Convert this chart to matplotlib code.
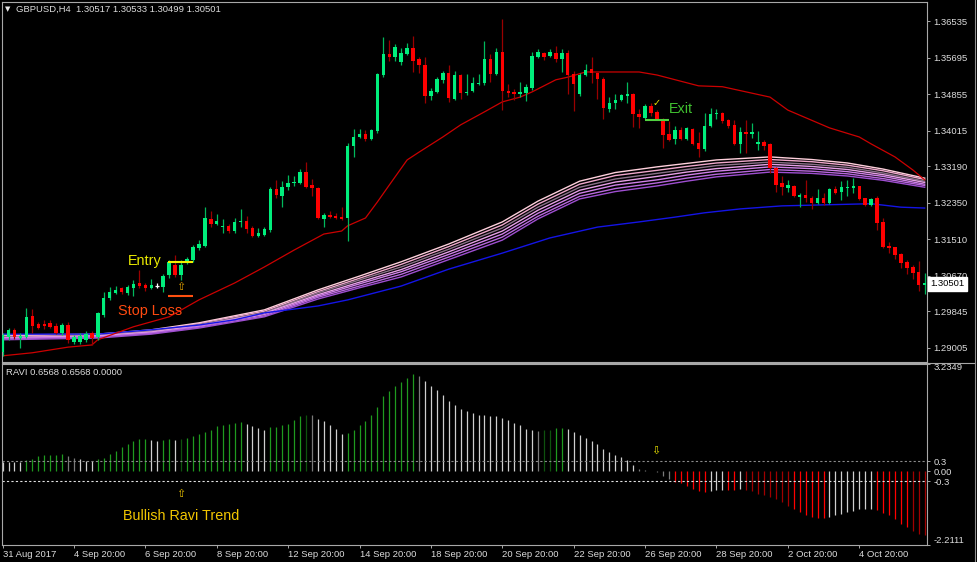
import matplotlib
matplotlib.use("Agg")
import matplotlib.pyplot as plt
from matplotlib.lines import Line2D
import numpy as np

plt.rcParams['font.family'] = ['Liberation Sans', 'DejaVu Sans']

# ---------------- data (GBPUSD H4) ----------------
bar_open = [
    1.2891, 1.2925, 1.2942, 1.2923, 1.2925, 1.2974, 1.2956, 1.2956, 1.2958, 1.2951,
    1.2935, 1.2953, 1.2914, 1.2914, 1.2919, 1.2935, 1.2925, 1.2976, 1.3015, 1.3027,
    1.3039, 1.3027, 1.3039, 1.3050, 1.3045, 1.3039, 1.3043, 1.3041, 1.3069, 1.3092,
    1.3069, 1.3096, 1.3103, 1.3131, 1.3135, 1.3198, 1.3186, 1.3179, 1.3182, 1.3170,
    1.3191, 1.3193, 1.3177, 1.3159, 1.3161, 1.3172, 1.3267, 1.3251, 1.3272, 1.3281,
    1.3281, 1.3306, 1.3276, 1.3269, 1.3198, 1.3207, 1.3205, 1.3202, 1.3200, 1.3366,
    1.3387, 1.3394, 1.3382, 1.3401, 1.3530, 1.3578, 1.3572, 1.3560, 1.3578, 1.3592,
    1.3567, 1.3553, 1.3482, 1.3491, 1.3519, 1.3535, 1.3475, 1.3530, 1.3489, 1.3493,
    1.3509, 1.3512, 1.3567, 1.3532, 1.3583, 1.3493, 1.3491, 1.3486, 1.3489, 1.3500,
    1.3572, 1.3581, 1.3574, 1.3581, 1.3567, 1.3581, 1.3532, 1.3486, 1.3530, 1.3544,
    1.3535, 1.3521, 1.3452, 1.3465, 1.3472, 1.3482, 1.3486, 1.3440, 1.3431, 1.3459,
    1.3445, 1.3429, 1.3394, 1.3382, 1.3403, 1.3382, 1.3405, 1.3373, 1.3359, 1.3412,
    1.3440, 1.3442, 1.3426, 1.3415, 1.3371, 1.3399, 1.3394, 1.3371, 1.3375, 1.3371,
    1.3315, 1.3281, 1.3269, 1.3274, 1.3249, 1.3253, 1.3246, 1.3235, 1.3246, 1.3235,
    1.3267, 1.3260, 1.3269, 1.3269, 1.3274, 1.3246, 1.3230, 1.3246, 1.3191, 1.3135,
    1.3133, 1.3117, 1.3099, 1.3087, 1.3075, 1.3046]
bar_high = [
    1.2935, 1.2946, 1.2946, 1.2935, 1.2992, 1.2990, 1.2960, 1.2965, 1.2965, 1.2958,
    1.2958, 1.2960, 1.2930, 1.2935, 1.2939, 1.2939, 1.2983, 1.3029, 1.3041, 1.3043,
    1.3041, 1.3045, 1.3057, 1.3080, 1.3050, 1.3059, 1.3050, 1.3071, 1.3103, 1.3115,
    1.3103, 1.3110, 1.3138, 1.3149, 1.3225, 1.3216, 1.3209, 1.3198, 1.3186, 1.3200,
    1.3221, 1.3205, 1.3182, 1.3177, 1.3179, 1.3272, 1.3288, 1.3285, 1.3299, 1.3297,
    1.3313, 1.3329, 1.3290, 1.3272, 1.3212, 1.3216, 1.3212, 1.3225, 1.3373, 1.3405,
    1.3405, 1.3403, 1.3405, 1.3535, 1.3618, 1.3611, 1.3602, 1.3592, 1.3604, 1.3620,
    1.3572, 1.3572, 1.3500, 1.3525, 1.3539, 1.3553, 1.3539, 1.3532, 1.3532, 1.3525,
    1.3532, 1.3609, 1.3578, 1.3592, 1.3659, 1.3509, 1.3498, 1.3514, 1.3509, 1.3583,
    1.3590, 1.3583, 1.3590, 1.3597, 1.3590, 1.3588, 1.3539, 1.3535, 1.3555, 1.3572,
    1.3537, 1.3525, 1.3479, 1.3486, 1.3486, 1.3514, 1.3489, 1.3452, 1.3463, 1.3465,
    1.3449, 1.3431, 1.3424, 1.3412, 1.3410, 1.3410, 1.3408, 1.3398, 1.3442, 1.3454,
    1.3452, 1.3445, 1.3429, 1.3426, 1.3410, 1.3426, 1.3419, 1.3401, 1.3380, 1.3373,
    1.3318, 1.3297, 1.3288, 1.3276, 1.3258, 1.3288, 1.3251, 1.3267, 1.3258, 1.3269,
    1.3274, 1.3285, 1.3288, 1.3292, 1.3274, 1.3246, 1.3246, 1.3251, 1.3200, 1.3145,
    1.3133, 1.3119, 1.3103, 1.3092, 1.3101, 1.3073]
bar_low = [
    1.2882, 1.2919, 1.2921, 1.2900, 1.2923, 1.2935, 1.2944, 1.2944, 1.2946, 1.2932,
    1.2930, 1.2912, 1.2909, 1.2909, 1.2914, 1.2907, 1.2919, 1.2972, 1.3011, 1.3025,
    1.3025, 1.3022, 1.3020, 1.3039, 1.3032, 1.3036, 1.3039, 1.3029, 1.3062, 1.3064,
    1.3057, 1.3094, 1.3099, 1.3126, 1.3133, 1.3179, 1.3184, 1.3165, 1.3165, 1.3165,
    1.3179, 1.3165, 1.3156, 1.3156, 1.3159, 1.3168, 1.3246, 1.3225, 1.3265, 1.3274,
    1.3279, 1.3269, 1.3251, 1.3198, 1.3179, 1.3200, 1.3198, 1.3195, 1.3147, 1.3341,
    1.3385, 1.3378, 1.3380, 1.3396, 1.3525, 1.3562, 1.3562, 1.3553, 1.3576, 1.3537,
    1.3535, 1.3465, 1.3472, 1.3489, 1.3512, 1.3468, 1.3472, 1.3475, 1.3484, 1.3491,
    1.3507, 1.3507, 1.3514, 1.3530, 1.3449, 1.3479, 1.3472, 1.3479, 1.3470, 1.3495,
    1.3569, 1.3565, 1.3572, 1.3560, 1.3537, 1.3486, 1.3447, 1.3482, 1.3528, 1.3512,
    1.3475, 1.3429, 1.3445, 1.3452, 1.3470, 1.3465, 1.3410, 1.3408, 1.3429, 1.3435,
    1.3426, 1.3362, 1.3378, 1.3371, 1.3380, 1.3380, 1.3369, 1.3341, 1.3355, 1.3410,
    1.3429, 1.3419, 1.3408, 1.3369, 1.3350, 1.3350, 1.3385, 1.3357, 1.3357, 1.3304,
    1.3260, 1.3253, 1.3260, 1.3249, 1.3225, 1.3237, 1.3221, 1.3232, 1.3230, 1.3232,
    1.3255, 1.3242, 1.3251, 1.3258, 1.3242, 1.3228, 1.3228, 1.3172, 1.3131, 1.3119,
    1.3105, 1.3085, 1.3071, 1.3059, 1.3032, 1.3025]
bar_close = [
    1.2930, 1.2942, 1.2925, 1.2928, 1.2972, 1.2951, 1.2946, 1.2951, 1.2949, 1.2935,
    1.2953, 1.2919, 1.2925, 1.2928, 1.2932, 1.2923, 1.2981, 1.3015, 1.3029, 1.3034,
    1.3029, 1.3041, 1.3048, 1.3043, 1.3039, 1.3045, 1.3043, 1.3066, 1.3099, 1.3069,
    1.3092, 1.3105, 1.3133, 1.3140, 1.3200, 1.3186, 1.3193, 1.3182, 1.3170, 1.3191,
    1.3193, 1.3175, 1.3159, 1.3165, 1.3175, 1.3267, 1.3253, 1.3272, 1.3281, 1.3283,
    1.3306, 1.3272, 1.3269, 1.3200, 1.3207, 1.3202, 1.3200, 1.3198, 1.3366, 1.3387,
    1.3394, 1.3382, 1.3403, 1.3532, 1.3578, 1.3572, 1.3595, 1.3581, 1.3592, 1.3562,
    1.3553, 1.3482, 1.3493, 1.3521, 1.3535, 1.3477, 1.3530, 1.3489, 1.3491, 1.3512,
    1.3512, 1.3567, 1.3532, 1.3583, 1.3493, 1.3489, 1.3486, 1.3491, 1.3502, 1.3574,
    1.3583, 1.3572, 1.3583, 1.3567, 1.3581, 1.3530, 1.3509, 1.3530, 1.3542, 1.3535,
    1.3521, 1.3454, 1.3465, 1.3472, 1.3484, 1.3486, 1.3440, 1.3433, 1.3459, 1.3442,
    1.3429, 1.3392, 1.3380, 1.3403, 1.3382, 1.3408, 1.3371, 1.3359, 1.3412, 1.3440,
    1.3442, 1.3424, 1.3412, 1.3371, 1.3399, 1.3394, 1.3399, 1.3375, 1.3366, 1.3315,
    1.3276, 1.3272, 1.3276, 1.3251, 1.3253, 1.3246, 1.3235, 1.3246, 1.3235, 1.3267,
    1.3258, 1.3272, 1.3272, 1.3274, 1.3244, 1.3230, 1.3244, 1.3189, 1.3133, 1.3131,
    1.3115, 1.3096, 1.3085, 1.3073, 1.3045, 1.30501]

# red moving average (sampled at bar indices)
red_ma_idx = [0, 5, 11, 15, 16, 22, 28, 33, 39, 44, 49, 54, 57, 58, 61, 63, 65, 68, 70,
              74, 77, 81, 84, 87, 89, 93, 95, 98, 107, 110, 117, 121, 129, 132, 139,
              144, 146, 150, 153, 155]
red_ma = [1.2882, 1.2889, 1.2902, 1.2907, 1.2919, 1.2949, 1.2972, 1.3011, 1.3050, 1.3087,
          1.3126, 1.3163, 1.3170, 1.3182, 1.3200, 1.3237, 1.3276, 1.3334, 1.3352,
          1.3387, 1.3415, 1.3445, 1.3468, 1.3479, 1.3491, 1.3519, 1.3525, 1.3537, 1.3537,
          1.3530, 1.3505, 1.3503, 1.3479, 1.3449, 1.3408, 1.3387, 1.3371, 1.3341,
          1.3311, 1.3288]

# blue moving average
blue_ma_idx = [0, 16, 25, 33, 39, 44, 53, 58, 67, 75, 84, 92, 100, 107, 113, 118, 124,
               131, 146, 151, 155]
blue_ma = [1.2932, 1.2932, 1.2942, 1.2953, 1.2965, 1.2981, 1.2997, 1.3011, 1.3043, 1.3082,
           1.3119, 1.3154, 1.3179, 1.3191, 1.3202, 1.3212, 1.3221, 1.3228, 1.3233, 1.3225,
           1.3223]

# multiple moving-average ribbon (top line first)
ribbon_idx = [0, 16, 25, 33, 44, 53, 60, 67, 75, 84, 90, 97, 103, 110, 115, 120, 129, 136, 142, 148, 155]
ribbon_1 = [1.2930, 1.2932, 1.2942, 1.2958, 1.2988, 1.3034, 1.3066, 1.3099, 1.3140, 1.3191, 1.3239,
            1.3285, 1.3305, 1.3318, 1.3326, 1.3334, 1.3341, 1.3335, 1.3327, 1.3313, 1.3292]
ribbon_2 = [1.2928, 1.2931, 1.2940, 1.2956, 1.2985, 1.3030, 1.3061, 1.3093, 1.3134, 1.3184, 1.3232,
            1.3278, 1.3298, 1.3310, 1.3319, 1.3327, 1.3335, 1.3330, 1.3322, 1.3309, 1.3289]
ribbon_3 = [1.2925, 1.2929, 1.2939, 1.2954, 1.2982, 1.3027, 1.3057, 1.3087, 1.3128, 1.3177, 1.3225,
            1.3271, 1.3290, 1.3303, 1.3312, 1.3321, 1.3329, 1.3324, 1.3317, 1.3304, 1.3285]
ribbon_4 = [1.2924, 1.2928, 1.2937, 1.2952, 1.2980, 1.3023, 1.3052, 1.3081, 1.3122, 1.3170, 1.3218,
            1.3264, 1.3283, 1.3296, 1.3306, 1.3314, 1.3324, 1.3319, 1.3312, 1.3300, 1.3282]
ribbon_5 = [1.2923, 1.2926, 1.2935, 1.2950, 1.2977, 1.3020, 1.3048, 1.3076, 1.3116, 1.3163, 1.3211,
            1.3257, 1.3276, 1.3288, 1.3299, 1.3308, 1.3318, 1.3314, 1.3307, 1.3296, 1.3278]
ribbon_6 = [1.2921, 1.2925, 1.2934, 1.2948, 1.2974, 1.3017, 1.3043, 1.3070, 1.3110, 1.3156, 1.3204,
            1.3250, 1.3268, 1.3281, 1.3292, 1.3301, 1.3312, 1.3308, 1.3302, 1.3291, 1.3275]
ribbon_7 = [1.2919, 1.2923, 1.2932, 1.2946, 1.2972, 1.3013, 1.3039, 1.3064, 1.3104, 1.3149, 1.3198,
            1.3244, 1.3261, 1.3274, 1.3285, 1.3295, 1.3306, 1.3303, 1.3297, 1.3287, 1.3271]

# RAVI histogram
ravi = [
    0.28, 0.28, 0.28, 0.27, 0.33, 0.38, 0.45, 0.48, 0.48, 0.49,
    0.52, 0.45, 0.41, 0.36, 0.32, 0.30, 0.36, 0.40, 0.53, 0.61,
    0.72, 0.83, 0.91, 0.96, 0.96, 0.93, 0.92, 0.93, 0.96, 0.93,
    0.96, 1.01, 1.06, 1.12, 1.18, 1.25, 1.35, 1.40, 1.43, 1.45,
    1.47, 1.41, 1.36, 1.30, 1.25, 1.32, 1.34, 1.38, 1.43, 1.53,
    1.66, 1.70, 1.68, 1.58, 1.50, 1.40, 1.28, 1.13, 1.16, 1.23,
    1.40, 1.51, 1.68, 1.93, 2.26, 2.41, 2.56, 2.68, 2.81, 2.91,
    2.86, 2.70, 2.56, 2.43, 2.30, 2.10, 2.00, 1.86, 1.80, 1.76,
    1.70, 1.68, 1.66, 1.65, 1.60, 1.53, 1.46, 1.40, 1.26, 1.23,
    1.20, 1.23, 1.23, 1.30, 1.31, 1.28, 1.18, 1.08, 1.00, 0.90,
    0.83, 0.66, 0.58, 0.50, 0.43, 0.33, 0.20, 0.06, 0.03, 0.02,
    -0.01, -0.14, -0.24, -0.32, -0.35, -0.44, -0.52, -0.60, -0.62, -0.59,
    -0.56, -0.55, -0.57, -0.57, -0.54, -0.57, -0.60, -0.67, -0.70, -0.77,
    -0.84, -0.92, -1.04, -1.12, -1.22, -1.30, -1.37, -1.39, -1.40, -1.37,
    -1.32, -1.27, -1.22, -1.19, -1.14, -1.12, -1.12, -1.17, -1.24, -1.30,
    -1.42, -1.57, -1.67, -1.79, -1.89, -1.92]
ravi_color_codes = ("wwww" "ggggggg" "kk" "www" "ggggggggg" "ww" "gg" "w" "d"
                    "gggggggggg" "wwww" "gggggg" "d" "k" "wwwww" "gggggggggggg" "k"
                    "wwwwwwwwwwwwwwwwwww" "k" "dd" "gg" "wwwwwwwwwwww" "kkkkkk"
                    "rrrrrr" "www" "rr" "w" "mmmmmmmm" "rrrrrr" "wwwwwwww" "rrrrrr" "mmm")
ravi_levels = [0.3, -0.3]

date_tick_idx = [0, 12, 24, 36, 48, 60, 72, 84, 96, 108, 120, 132, 144]
date_labels = ['31 Aug 2017', '4 Sep 20:00', '6 Sep 20:00', '8 Sep 20:00', '12 Sep 20:00',
               '14 Sep 20:00', '18 Sep 20:00', '20 Sep 20:00', '22 Sep 20:00',
               '26 Sep 20:00', '28 Sep 20:00', '2 Oct 20:00', '4 Oct 20:00']
price_ticks = [1.36535, 1.35695, 1.34855, 1.34015, 1.33190, 1.32350, 1.31510,
               1.30670, 1.29845, 1.29005]
ravi_ticks = [3.2349, 0.3, 0.0, -0.3, -2.2111]
ravi_tick_labels = ['3.2349', '0.3', '0.00', '-0.3', '-2.2111']

entry_price = 1.3099
stop_price = 1.3021
exit_price = 1.3427
entry_bars = (27.85, 32.05)
exit_bars = (108.0, 112.1)

# ---------------- figure ----------------
W, H = 977, 562
fig = plt.figure(figsize=(W / 100, H / 100), dpi=100, facecolor='black')


def fx(px):
    return px / W


def fy(py):
    return 1 - py / H


TXT = '#dcdcdc'
SPINE = '#a8a8a8'
FS = 6.8

ax = fig.add_axes([fx(2), fy(362), fx(927) - fx(2), fy(2) - fy(362)], facecolor='black')
ax2 = fig.add_axes([fx(2), fy(545), fx(927) - fx(2), fy(363.5) - fy(545)], facecolor='black')

n = len(bar_close)
xs = np.arange(n)
o = np.array(bar_open); c = np.array(bar_close)
h = np.array(bar_high); l = np.array(bar_low)

BULL, BEAR = '#00ee7c', '#ff0000'
BULL_W, BEAR_W = '#00b85c', '#9a0000'

# ribbon
rib_cols = ['#ffd0dc', '#f0a8cc', '#8a7088', '#e6a0e6', '#d080e8', '#b868dc', '#9e4ed0']
for vals, col in zip([ribbon_1, ribbon_2, ribbon_3, ribbon_4, ribbon_5, ribbon_6, ribbon_7], rib_cols):
    ax.plot(ribbon_idx, vals, color=col, lw=1.0, zorder=2)
ax.plot(blue_ma_idx, blue_ma, color='#1414e6', lw=1.0, zorder=2)
ax.plot(red_ma_idx, red_ma, color='#cc0000', lw=0.9, zorder=2)

# candles
for i in range(n):
    if c[i] > o[i]:
        bc, wc = BULL, BULL_W
    elif c[i] < o[i]:
        bc, wc = BEAR, BEAR_W
    else:
        bc, wc = '#ffffff', '#ffffff'
    ax.vlines(i, l[i], h[i], color=wc, lw=0.9, zorder=3)
    if c[i] == o[i]:
        ax.hlines(o[i], i - 0.3, i + 0.3, color=bc, lw=0.9, zorder=4)
    else:
        b0 = min(o[i], c[i]); hh = max(abs(c[i] - o[i]), 0.00025)
        ax.bar(i, hh, width=0.58, bottom=b0, color=bc, lw=0, zorder=4)

ax.set_xlim(-0.1, 155.39)
ax.set_ylim(1.28677, 1.36985)
ax.set_xticks([])
ax.yaxis.tick_right()
ax.set_yticks(price_ticks)
ax.set_yticklabels([f'{v:.5f}' for v in price_ticks])
ax.tick_params(axis='y', colors=SPINE, labelcolor=TXT, length=2.2, width=0.7,
               pad=2.5, labelsize=FS)
for s in ax.spines.values():
    s.set_color(SPINE); s.set_linewidth(0.8)

# trade annotations
ax.hlines(entry_price, *entry_bars, color='#f0f000', lw=1.5, zorder=5)
ax.hlines(stop_price, *entry_bars, color='#ff5010', lw=1.5, zorder=5)
ax.hlines(exit_price, *exit_bars, color='#50d040', lw=1.5, zorder=5)
ax.text(21.08, 1.3092, 'Entry', color='#e8e800', fontsize=10.4, ha='left', va='baseline', zorder=6)
ax.text(19.45, 1.2976, 'Stop Loss', color='#ff4a10', fontsize=10.4, ha='left', va='baseline', zorder=6)
ax.text(112.0, 1.3442, 'Exit', color='#40c030', fontsize=10.4, ha='left', va='baseline', zorder=6)
ax.text(30.0, 1.3041, '\u21e7', color='#e0a000', fontsize=8, ha='center', va='center',
        family='DejaVu Sans', zorder=6)
ax.text(109.95, 1.34665, '\u2713', color='#e8e800', fontsize=7, ha='center', va='center',
        family='DejaVu Sans', zorder=6)

# last price box
ax.annotate(f'{bar_close[-1]:.5f}', xy=(1, bar_close[-1]), xycoords=('axes fraction', 'data'),
            xytext=(2.2, -0.6), textcoords='offset points', ha='left', va='center',
            fontsize=FS, color='black', annotation_clip=False, zorder=10,
            bbox=dict(boxstyle='square,pad=0.25', fc='white', ec='white'))

# RAVI panel
cmap = {'g': '#1f9a1f', 'd': '#0e520e', 'w': '#cfcfcf', 'k': '#7a7a7a',
        'r': '#ff0000', 'm': '#a00000'}
ax2.vlines(xs, 0, ravi, colors=[cmap[k] for k in ravi_color_codes], lw=0.9)
ax2.axhline(ravi_levels[0], color='#8a8a8a', lw=0.8, ls=(0, (2, 2)))
ax2.axhline(ravi_levels[1], color='#e0e0e0', lw=0.8, ls=(0, (2, 2)))
ax2.set_xlim(-0.1, 155.39)
ax2.set_ylim(-2.2111, 3.2349)
ax2.yaxis.tick_right()
ax2.set_yticks(ravi_ticks)
ax2.set_yticklabels(ravi_tick_labels)
ax2.tick_params(axis='y', colors=SPINE, labelcolor=TXT, length=2.2, width=0.7,
                pad=2.5, labelsize=FS)
labs = ax2.get_yticklabels()
labs[0].set_va('top')
labs[-1].set_va('bottom')
ax2.set_xticks(date_tick_idx)
ax2.set_xticklabels(date_labels, ha='left')
ax2.tick_params(axis='x', colors=SPINE, labelcolor=TXT, length=2.2, width=0.7,
                pad=1.5, labelsize=FS)
for s in ax2.spines.values():
    s.set_color(SPINE); s.set_linewidth(0.8)

ax2.text(109.8, 0.603, '\u21e9', color='#e8e000', fontsize=8, ha='center', va='center',
         family='DejaVu Sans')
ax2.text(30.0, -0.675, '\u21e7', color='#e8c000', fontsize=8, ha='center', va='center',
         family='DejaVu Sans')
ax2.text(20.3, -1.47, 'Bullish Ravi Trend', color='#f2c600', fontsize=10.4,
         ha='left', va='baseline')

# headers
fig.text(fx(4.5), fy(9.5), '\u25bc', color='#e8e8e8', fontsize=5, ha='left', va='center',
         family='DejaVu Sans')
fig.text(fx(16), fy(9.5), 'GBPUSD,H4  1.30517 1.30533 1.30499 1.30501', color=TXT,
         fontsize=FS, ha='left', va='center')
fig.text(fx(6), fy(372.8), 'RAVI 0.6568 0.6568 0.0000', color=TXT, fontsize=FS,
         ha='left', va='center')

# window border lines
fig.add_artist(Line2D([fx(2), fx(975)], [fy(362.5), fy(362.5)], color=SPINE, lw=0.8))
fig.add_artist(Line2D([fx(975), fx(975)], [fy(0), fy(562)], color='#909090', lw=0.8))

fig.savefig('out.png', dpi=100, facecolor='black')
